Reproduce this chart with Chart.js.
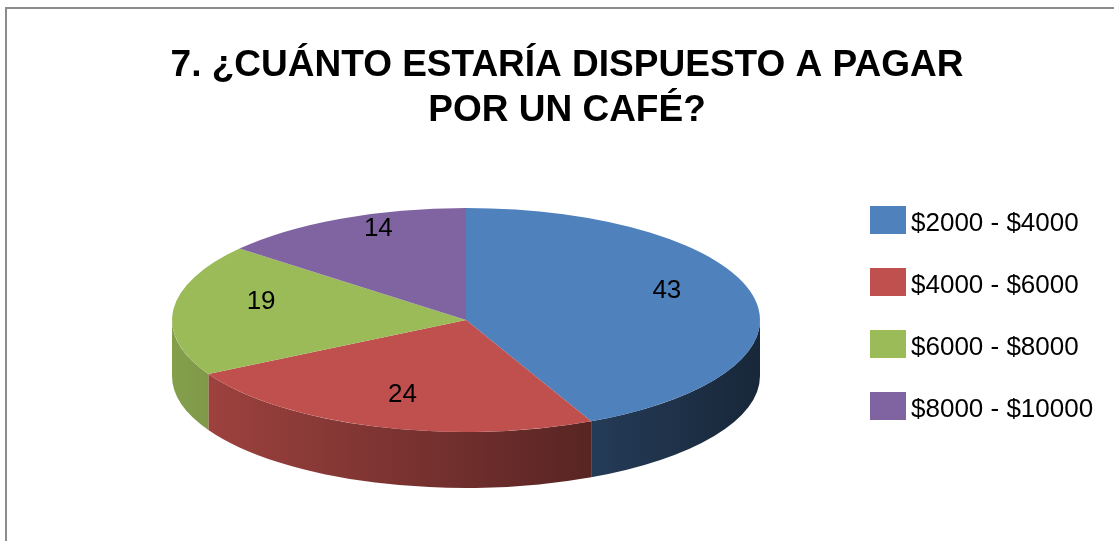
<!DOCTYPE html>
<html>
<head>
<meta charset="utf-8">
<script src="https://cdn.jsdelivr.net/npm/chart.js@4.4.1/dist/chart.umd.min.js"></script>
<style>
  html, body { margin: 0; padding: 0; background: #fff; }
  canvas { display: block; }
</style>
</head>
<body>
<canvas id="myChart" width="1114" height="541"></canvas>
<script>
var titleLines = ['7. ¿CUÁNTO ESTARÍA DISPUESTO A PAGAR', 'POR UN CAFÉ?'];
var categories = ['$2000 - $4000', '$4000 - $6000', '$6000 - $8000', '$8000 - $10000'];
var answers = [43, 24, 19, 14];
var sliceColors = ['#4f81bd', '#c0504d', '#9bbb59', '#8064a2'];

// where the flattened "3d" pie sits on the page
var pieX = 466, pieY = 320, pieRx = 294, pieRy = 112, pieDepth = 56;
var fontName = '"Liberation Sans", Arial, sans-serif';

function shade(hex, f) {
  var n = parseInt(hex.slice(1), 16);
  var r = Math.round(((n >> 16) & 255) * f);
  var g = Math.round(((n >> 8) & 255) * f);
  var b = Math.round((n & 255) * f);
  return 'rgb(' + r + ',' + g + ',' + b + ')';
}

var frame = {
  id: 'frame',
  beforeDraw: function (chart) {
    var c = chart.ctx;
    c.save();
    c.fillStyle = '#fff';
    c.fillRect(0, 0, chart.width, chart.height);
    c.strokeStyle = '#8c8c8c';
    c.lineWidth = 2;
    c.beginPath();
    c.moveTo(6, chart.height);
    c.lineTo(6, 8);
    c.lineTo(chart.width, 8);
    c.stroke();
    c.restore();
  },
  afterDraw: function (chart) {
    var c = chart.ctx;
    c.save();
    c.font = '26px ' + fontName;
    c.textBaseline = 'middle';
    categories.forEach(function (name, i) {
      var y = 220 + i * 62;
      c.fillStyle = sliceColors[i];
      c.fillRect(870, y - 14, 36, 28);
      c.fillStyle = '#000';
      c.fillText(name, 911, y + 4);
    });
    c.restore();
  }
};

var flatPie = {
  id: 'flatPie',
  beforeDatasetsDraw: function (chart) {
    var c = chart.ctx;
    var meta = chart.getDatasetMeta(0);
    // side wall, only the front half shows
    meta.data.forEach(function (arc, i) {
      [[0, Math.PI], [2 * Math.PI, 3 * Math.PI]].forEach(function (s) {
        var a0 = Math.max(arc.startAngle, s[0]);
        var a1 = Math.min(arc.endAngle, s[1]);
        if (a1 <= a0) return;
        var grad = c.createLinearGradient(pieX - pieRx, 0, pieX + pieRx, 0);
        grad.addColorStop(0, shade(sliceColors[i], 0.85));
        grad.addColorStop(1, shade(sliceColors[i], 0.3));
        c.beginPath();
        c.ellipse(pieX, pieY, pieRx, pieRy, 0, a0, a1);
        c.ellipse(pieX, pieY + pieDepth, pieRx, pieRy, 0, a1, a0, true);
        c.closePath();
        c.fillStyle = grad;
        c.fill();
      });
    });
    var el = meta.data[0];
    c.save();
    c.translate(pieX, pieY);
    c.scale(pieRx / el.outerRadius, pieRy / el.outerRadius);
    c.translate(-el.x, -el.y);
  },
  afterDatasetsDraw: function (chart) {
    var c = chart.ctx;
    c.restore();
    var meta = chart.getDatasetMeta(0);
    c.save();
    c.font = '26px ' + fontName;
    c.fillStyle = '#000';
    c.textAlign = 'center';
    c.textBaseline = 'middle';
    meta.data.forEach(function (arc, i) {
      var mid = (arc.startAngle + arc.endAngle) / 2;
      var x = pieX + pieRx * 0.7 * Math.cos(mid);
      var y = pieY - 10 + pieRy * 0.8 * Math.sin(mid);
      c.fillText(answers[i], x, y);
    });
    c.restore();
  }
};

var ctx = document.getElementById('myChart').getContext('2d');
var myChart = new Chart(ctx, {
    type: 'pie',
    data: {
        labels: categories,
        datasets: [{
            label: 'Respuestas',
            data: answers,
            backgroundColor: sliceColors,
            borderWidth: 0,
            clip: false
        }]
    },
    options: {
        responsive: false,
        animation: false,
        devicePixelRatio: 1,
        events: [],
        layout: { padding: { left: 20 } },
        plugins: {
            legend: { display: false },
            tooltip: { enabled: false },
            title: {
                display: true,
                text: titleLines,
                color: '#000',
                font: { family: fontName, size: 37, weight: 'bold', lineHeight: 1.2 },
                padding: { top: 44, bottom: 10 }
            }
        }
    },
    plugins: [frame, flatPie]
});
</script>
</body>
</html>
